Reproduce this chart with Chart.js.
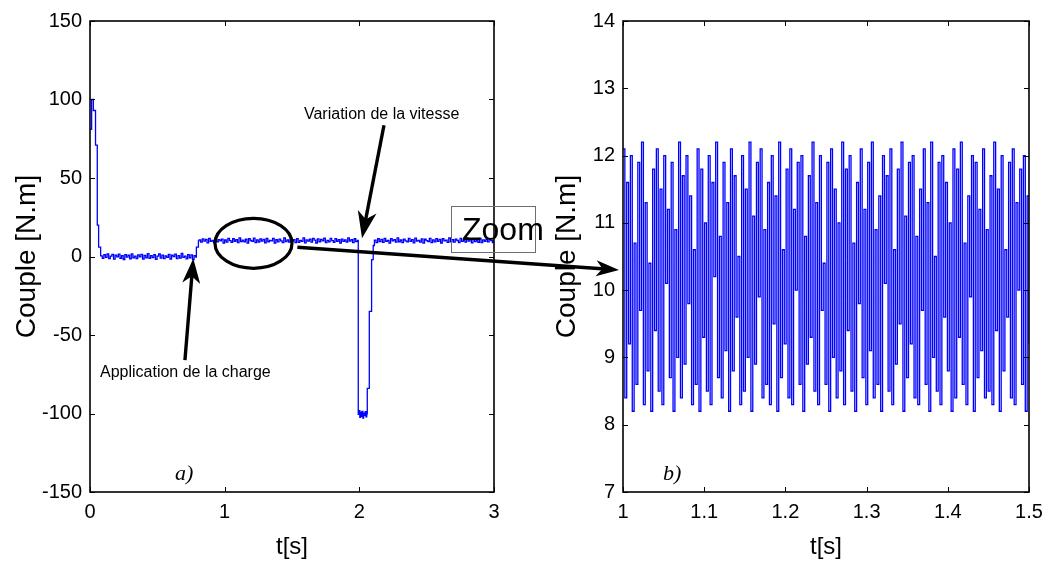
<!DOCTYPE html>
<html>
<head>
<meta charset="utf-8">
<script src="https://cdn.jsdelivr.net/npm/chart.js@4.4.1/dist/chart.umd.min.js"></script>
<style>
html, body { margin: 0; padding: 0; background: #fff; }
#wrap { position: relative; width: 1050px; height: 565px; overflow: hidden; }
#left { position: absolute; left: 0; top: 0; }
#right { position: absolute; left: 540px; top: 0; }
#overlay { position: absolute; left: 0; top: 0; pointer-events: none; }
</style>
</head>
<body>
<div id="wrap">
  <canvas id="left" width="540" height="565"></canvas>
  <canvas id="right" width="510" height="565"></canvas>
  <canvas id="overlay" width="1050" height="565"></canvas>
</div>
<script>
// ---- panel a) : couple over the whole run, 0..3 s ----
const startT = [0, 0.012, 0.025, 0.041, 0.054, 0.064];
const startY = [81, 100, 93, 71, 20, 6];

// ripple around 0 before the load, 0.079..0.785 s
const ripple0 = [0.4, -1.2, 1.1, -0.6, 1.6, -1.4, 0.2, 1.3, -1.7, 0.9,
  -0.3, 1.5, -1.1, 0.6, -1.9, 1.2, -0.4, 0.8, -1.5, 1.7,
  -0.8, 0.3, -1.3, 1.0, -0.2, 1.4, -1.6, 0.7, -0.9, 1.8,
  -1.2, 0.5, -0.7, 1.1, -1.8, 0.2, 1.6, -1.0, 0.9, -1.4,
  0.4, -0.5, 1.3, -1.7, 0.8, -0.1, 1.5, -1.3, 0.6, -1.0,
  1.9, -0.6, 0.3, -1.5, 1.2, -0.8, 1.0, -1.9, 0.5, -0.4];

const loadT = [0.79, 0.805];
const loadY = [6, 10];

// ripple around 10 N.m, 0.81..1.985 s
const ripple10a = [10.6, 9.1, 11.2, 9.8, 10.9, 8.7, 11.5, 9.6, 10.3, 8.9,
  11.7, 9.4, 10.8, 9.9, 11.1, 8.6, 10.5, 9.2, 11.6, 10.1,
  9.0, 11.3, 9.7, 10.7, 8.8, 11.8, 9.5, 10.4, 9.3, 11.0,
  8.5, 11.4, 10.2, 9.6, 11.7, 8.9, 10.6, 9.1, 11.2, 9.8,
  10.9, 8.7, 11.5, 9.4, 10.3, 9.9, 11.6, 8.6, 10.8, 9.3,
  11.1, 10.0, 8.8, 11.8, 9.5, 10.5, 9.2, 11.3, 9.7, 10.7,
  8.9, 11.4, 9.0, 10.2, 9.6, 11.9, 8.7, 10.6, 9.8, 11.0,
  9.1, 11.5, 10.4, 8.6, 11.2, 9.4, 10.9, 9.9, 11.7, 8.8,
  10.3, 9.3, 11.6, 10.1, 9.0, 11.4, 9.7, 10.8, 8.5, 11.1,
  9.6, 10.5, 9.2, 11.8, 9.8, 10.7, 8.9, 11.3, 9.5, 10.2];

// speed reversal, 1.992..2.055 s
const rippleLow = [-100.5, -98.2, -102.4, -99.1, -101.8, -98.6, -102.9, -99.7, -101.2, -98.9, -102.1, -100.3];

const recovT = [2.059, 2.074, 2.091, 2.103];
const recovY = [-84, -35, -2, 7];

// ripple around 10 N.m again, 2.112..3.0 s
const ripple10b = [10.4, 8.8, 11.3, 9.5, 10.9, 9.0, 11.6, 9.7, 10.2, 8.6,
  11.4, 9.9, 10.7, 9.2, 11.8, 9.4, 10.5, 8.9, 11.1, 10.0,
  9.3, 11.5, 9.6, 10.8, 8.7, 11.7, 9.8, 10.3, 9.1, 11.2,
  8.5, 11.0, 10.1, 9.5, 11.6, 8.8, 10.6, 9.3, 11.4, 9.7,
  10.9, 8.6, 11.3, 9.9, 10.4, 9.0, 11.8, 9.4, 10.7, 9.2,
  11.1, 10.2, 8.9, 11.5, 9.6, 10.5, 9.1, 11.9, 9.8, 10.8,
  8.7, 11.2, 9.5, 10.3, 9.0, 11.6, 8.8, 10.6, 9.7, 11.0,
  9.3, 11.4, 10.1, 8.9, 10.7];

// ---- panel b) : zoom 1..1.5 s (high / low pairs) ----
const zoomStart = 1.0;
const zoomEnd = 1.5;
const zoomY = [
  12.1, 8.4, 11.6, 9.2, 12.0, 8.2, 10.7, 8.6, 11.9, 9.7, 12.2, 8.3, 11.3, 8.8, 10.4, 8.2, 11.8, 9.4, 12.1, 8.5,
  11.5, 8.3, 12.0, 10.1, 11.2, 8.7, 11.9, 8.2, 10.9, 9.0, 12.2, 8.4, 11.7, 8.9, 12.0, 9.8, 11.4, 8.3, 10.6, 8.6,
  12.1, 8.2, 11.8, 9.3, 11.0, 8.5, 12.0, 8.3, 11.6, 10.2, 12.2, 8.7, 10.8, 8.4, 11.9, 9.1, 11.3, 8.2, 12.1, 8.8,
  11.7, 9.6, 10.5, 8.3, 12.0, 8.5, 11.5, 9.0, 12.2, 8.2, 11.1, 8.9, 11.9, 9.9, 12.1, 8.4, 10.9, 8.6, 11.6, 8.3,
  12.0, 9.5, 11.4, 8.2, 12.2, 8.7, 10.6, 9.2, 11.8, 8.4, 12.1, 8.3, 11.2, 10.0, 11.9, 8.6, 12.0, 8.2, 10.8, 8.9,
  11.7, 9.3, 12.2, 8.5, 11.3, 8.3, 12.0, 9.7, 10.4, 8.6, 11.9, 8.2, 12.1, 9.0, 11.5, 8.4, 11.0, 8.8, 12.2, 8.3,
  11.8, 9.4, 12.0, 8.5, 10.7, 8.2, 11.6, 9.8, 12.1, 8.7, 11.2, 8.3, 11.9, 9.1, 12.2, 8.4, 10.9, 8.6, 11.4, 8.2,
  12.0, 10.1, 11.7, 8.5, 12.1, 8.3, 10.6, 8.9, 11.8, 9.5, 12.2, 8.2, 11.1, 8.7, 11.9, 9.2, 12.0, 8.4, 10.8, 8.3,
  11.5, 9.7, 12.1, 8.6, 11.3, 8.2, 12.2, 9.0, 10.5, 8.5, 11.9, 8.3, 12.0, 9.6, 11.6, 8.8, 11.0, 8.2, 12.1, 8.4,
  11.8, 9.3, 12.2, 8.6, 10.7, 8.3, 11.4, 9.9, 12.0, 8.2, 11.9, 8.7, 11.2, 9.1, 12.1, 8.4, 10.9, 8.5, 11.7, 8.3,
  12.2, 9.4, 11.5, 8.2, 12.0, 8.8, 10.6, 9.6, 11.9, 8.4, 12.1, 8.3, 11.3, 10.0, 11.8, 8.6, 12.0, 8.2, 11.4, 9.2];

const leftTicksX = [0, 1, 2, 3];
const leftTicksY = [-150, -100, -50, 0, 50, 100, 150];
const rightTicksX = [1, 1.1, 1.2, 1.3, 1.4, 1.5];
const rightTicksY = [7, 8, 9, 10, 11, 12, 13, 14];

// ---- helpers ----
function pairs(ts, ys) {
  return ts.map((t, i) => ({x: t, y: ys[i]}));
}
// samples held at an even pace between t0 and t1
function spread(ys, t0, t1) {
  const dt = (t1 - t0) / (ys.length - 1);
  return ys.map((v, i) => ({x: t0 + i * dt, y: v}));
}

const leftData = [].concat(
  pairs(startT, startY),
  spread(ripple0, 0.079, 0.785),
  pairs(loadT, loadY),
  spread(ripple10a, 0.81, 1.985),
  spread(rippleLow, 1.992, 2.055),
  pairs(recovT, recovY),
  spread(ripple10b, 2.112, 3.0)
);
const rightData = spread(zoomY, zoomStart, zoomEnd);

const FONT = "'Liberation Sans', Arial, Helvetica, sans-serif";

// matlab style box with inward ticks
const boxPlugin = {
  id: 'box',
  afterDraw(chart) {
    const {ctx, chartArea: a} = chart;
    const x = chart.scales.x, y = chart.scales.y;
    const tx = chart.options.plugins.box.tx, ty = chart.options.plugins.box.ty;
    ctx.save();
    ctx.strokeStyle = '#000';
    ctx.lineWidth = 1;
    ctx.beginPath();
    tx.forEach(v => {
      const p = Math.round(x.getPixelForValue(v)) + 0.5;
      ctx.moveTo(p, a.bottom); ctx.lineTo(p, a.bottom - 5);
      ctx.moveTo(p, a.top); ctx.lineTo(p, a.top + 5);
    });
    ty.forEach(v => {
      const p = Math.round(y.getPixelForValue(v)) + 0.5;
      ctx.moveTo(a.left, p); ctx.lineTo(a.left + 5, p);
      ctx.moveTo(a.right, p); ctx.lineTo(a.right - 5, p);
    });
    ctx.stroke();
    ctx.lineWidth = 1.6;
    ctx.strokeRect(a.left, a.top, a.right - a.left, a.bottom - a.top);
    ctx.restore();
  }
};

function makeChart(id, data, xr, yr, yw, padRight, lw, opts) {
  return new Chart(document.getElementById(id), {
    type: 'line',
    data: {datasets: [{data: data, borderColor: '#0000ff', borderWidth: lw, pointRadius: 0, stepped: 'before', tension: 0}]},
    options: {
      responsive: false,
      animation: false,
      events: [],
      layout: {padding: {left: 0, right: padRight, top: 21, bottom: 0}},
      plugins: {legend: {display: false}, tooltip: {enabled: false}, box: opts},
      scales: {
        x: {
          type: 'linear', min: xr[0], max: xr[1],
          grid: {display: false}, border: {display: false},
          ticks: {stepSize: xr[2], color: '#000', font: {family: FONT, size: 20}, padding: 0, maxRotation: 0,
            callback: v => String(Math.round(v * 10) / 10)},
          title: {display: true, text: 't[s]', color: '#000', font: {family: FONT, size: 24}, padding: {top: 0, bottom: 3}},
          afterFit: s => { s.height = 73; }
        },
        y: {
          min: yr[0], max: yr[1],
          grid: {display: false}, border: {display: false},
          ticks: {stepSize: yr[2], color: '#000', font: {family: FONT, size: 20}, padding: 0},
          title: {display: true, text: 'Couple [N.m]', color: '#000', font: {family: FONT, size: 28}, padding: {top: 10, bottom: 0}},
          afterFit: s => { s.width = yw; }
        }
      }
    },
    plugins: [boxPlugin]
  });
}

const leftChart = makeChart('left', leftData, [0, 3, 1], [-150, 150, 50], 90, 46, 1.3, {tx: leftTicksX, ty: leftTicksY});
const rightChart = makeChart('right', rightData, [1, 1.5, 0.1], [7, 14, 1], 83, 21, 1.3, {tx: rightTicksX, ty: rightTicksY});

// ---- annotations on top of both panels ----
function arrow(ctx, x0, y0, x1, y1, len, half, lw) {
  const a = Math.atan2(y1 - y0, x1 - x0);
  const c = Math.cos(a), s = Math.sin(a);
  const bx = x1 - c * len, by = y1 - s * len;
  ctx.lineWidth = lw;
  ctx.beginPath();
  ctx.moveTo(x0, y0);
  ctx.lineTo(x1 - c * len * 0.6, y1 - s * len * 0.6);
  ctx.stroke();
  ctx.beginPath();
  ctx.moveTo(x1, y1);
  ctx.lineTo(bx - s * half, by + c * half);
  ctx.lineTo(x1 - c * len * 0.72, y1 - s * len * 0.72);
  ctx.lineTo(bx + s * half, by - c * half);
  ctx.closePath();
  ctx.fill();
}

function drawNotes() {
  const ov = document.getElementById('overlay');
  const ctx = ov.getContext('2d');
  const lx = leftChart.scales.x, ly = leftChart.scales.y;
  const rx = rightChart.scales.x, ry = rightChart.scales.y;
  const offR = 540;
  const X = t => lx.getPixelForValue(t);
  const Y = v => ly.getPixelForValue(v);

  ctx.strokeStyle = '#000';
  ctx.fillStyle = '#000';
  ctx.lineCap = 'butt';

  // ellipse round the ripple taken for the zoom
  ctx.lineWidth = 3.2;
  ctx.beginPath();
  ctx.ellipse(X(1.214), Y(8.4), X(1.5) - X(1.214), Y(0) - Y(15.9), 0, 0, Math.PI * 2);
  ctx.stroke();

  // arrows
  arrow(ctx, X(0.705), Y(-66), X(0.767), Y(-1.2), 25, 9, 3.4);
  arrow(ctx, X(2.183), Y(83.6), X(2.02), Y(11.6), 27, 9.5, 3.4);
  arrow(ctx, X(1.54), Y(5.9), offR + rightChart.chartArea.left - 4, ry.getPixelForValue(10.3), 23, 8, 3.4);

  // labels
  ctx.font = '16px ' + FONT;
  ctx.textBaseline = 'middle';
  ctx.textAlign = 'left';
  ctx.fillText('Application de la charge', X(0.074), Y(-74.2));
  ctx.fillText('Variation de la vitesse', X(1.589), Y(90.6));

  ctx.font = 'italic 22px "Liberation Serif", "Times New Roman", serif';
  ctx.fillText('a)', 175, 474);
  ctx.fillText('b)', offR + rx.getPixelForValue(1.0) + 40, 474);

  // Zoom box
  ctx.strokeStyle = '#6e6e6e';
  ctx.lineWidth = 1;
  ctx.strokeRect(451.5, 206.5, 84, 46);
  ctx.fillStyle = '#000';
  ctx.font = '32px ' + FONT;
  ctx.textBaseline = 'alphabetic';
  ctx.fillText('Zoom', 462, 240);
}
drawNotes();
</script>
</body>
</html>
